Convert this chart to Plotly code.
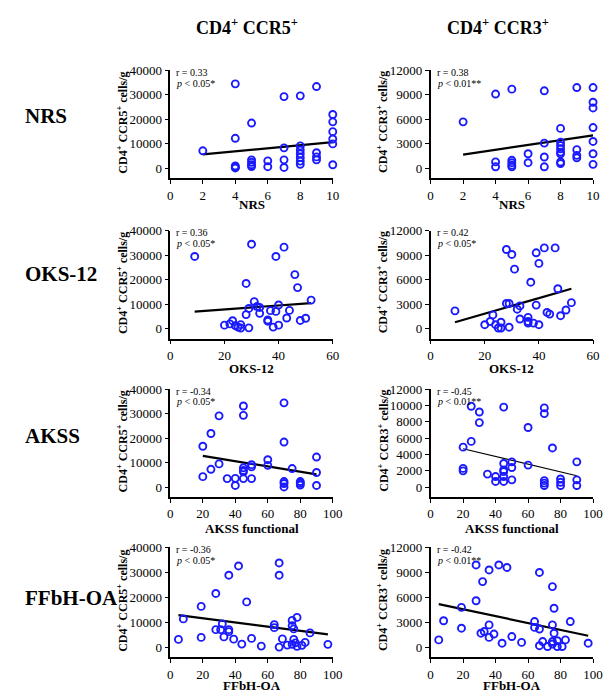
import plotly.graph_objects as go

W, H = 605, 693
FONT = "Liberation Serif"
BLUE = "#1a1aff"

# ---------------- data ----------------
nrs_ccr5_x = [2, 4, 4, 4, 4, 4, 5, 5, 5, 5, 5, 6, 6, 7, 7, 7, 7, 8, 8, 8, 8, 8, 8, 8, 9, 9, 9, 9, 10, 10, 10, 10, 10, 10]
nrs_ccr5_y = [7200, 34500, 12300, 1000, 500, 200, 18500, 3500, 2500, 1500, 800, 3100, 700, 29300, 8400, 3500, 400,
              29600, 9200, 7500, 6000, 4500, 3000, 1700, 33400, 6400, 4700, 3500, 22000, 19000, 15000, 12000, 10000, 1500]
nrs_ccr3_x = [2, 4, 4, 4, 5, 5, 5, 5, 5, 6, 6, 7, 7, 7, 7, 8, 8, 8, 8, 8, 8, 8, 8, 9, 9, 9, 9, 10, 10, 10, 10, 10, 10, 10]
nrs_ccr3_y = [5700, 9100, 800, 200, 9700, 1000, 700, 400, 200, 1800, 700, 9500, 3100, 1400, 200,
              4900, 3200, 2800, 2400, 2000, 1800, 800, 600, 9900, 2300, 1600, 1300, 9900, 8100, 7400, 5000, 3300, 1800, 500]

oks_ccr5_x = [9, 20, 22, 23, 24, 25, 26, 26, 28, 28, 29, 29, 30, 31, 32, 33, 33, 36, 36, 37, 38, 39, 39, 40, 40, 42, 43, 44, 46, 47, 48, 50, 52]
oks_ccr5_y = [29500, 1500, 2000, 3300, 1300, 700, 1700, 300, 18500, 5800, 8300, 400, 34500, 11100, 9100, 8700, 6300,
              3600, 3100, 7400, 700, 29500, 7100, 9700, 1500, 33300, 4400, 7500, 22100, 16800, 3400, 4300, 11700]
oks_ccr3_x = [9, 20, 22, 23, 24, 25, 26, 26, 28, 28, 29, 29, 30, 31, 32, 33, 33, 36, 36, 36, 37, 38, 39, 39, 40, 40, 42, 43, 44, 46, 47, 48, 50, 52]
oks_ccr3_y = [2200, 500, 900, 1700, 500, 100, 800, 100, 9700, 3100, 3100, 200, 9100, 7300, 2400, 2800, 1200,
              1400, 900, 700, 5700, 700, 9300, 2900, 500, 8000, 9900, 2000, 1800, 9900, 4900, 1600, 2300, 3200]

akss_ccr5_x = [20, 20, 25, 25, 30, 30, 35, 40, 40, 45, 45, 45, 45, 45, 45, 50, 50, 50, 60, 60, 70, 70, 70, 70, 70, 75, 80, 80, 80, 90, 90, 90]
akss_ccr5_y = [16700, 4300, 21900, 7300, 29100, 9500, 3500, 3600, 700, 33100, 29300, 7900, 6800, 6300, 3500,
               9200, 8300, 3500, 11200, 8900, 34400, 18400, 2300, 1500, 100, 7600, 2300, 1600, 900, 12300, 6000, 700]
akss_ccr3_x = [20, 20, 20, 25, 25, 30, 30, 35, 40, 40, 45, 45, 45, 45, 45, 45, 50, 50, 50, 60, 60, 70, 70, 70, 70, 70, 75, 80, 80, 80, 90, 90, 90]
akss_ccr3_y = [4900, 2300, 2000, 9900, 5600, 9200, 7900, 1600, 1300, 700, 9800, 2900, 2100, 1900, 1300, 700,
               3100, 2400, 900, 7300, 2700, 9700, 9000, 800, 500, 200, 4800, 1000, 600, 200, 3100, 900, 200]

ffbh_ccr5_x = [5, 8, 19, 19, 28, 28, 31, 32, 33, 36, 36, 36, 39, 42, 44, 47, 50, 56, 64, 64, 67, 67, 67, 69, 72,
               75, 75, 75, 76, 76, 77, 78, 78, 81, 83, 86, 97]
ffbh_ccr5_y = [3200, 11400, 16400, 4000, 21600, 7100, 7100, 9400, 4200, 28900, 7100, 6300, 3300, 32600, 1300, 18200,
               3600, 500, 9100, 7900, 33800, 28900, 100, 3400, 900, 10800, 8700, 1200, 7400, 3200, 1800, 12000, 400,
               800, 2000, 5800, 1200]
ffbh_ccr3_x = [5, 8, 19, 19, 28, 28, 31, 32, 33, 36, 36, 36, 39, 42, 44, 47, 50, 56, 64, 64, 67, 67, 67, 69, 72,
               75, 75, 75, 75, 76, 76, 78, 78, 81, 83, 86, 97]
ffbh_ccr3_y = [900, 3200, 4800, 2300, 9900, 5600, 1700, 7900, 1900, 9300, 2700, 1200, 1600, 9900, 500, 9600,
               1300, 600, 3100, 2400, 9000, 2200, 200, 700, 100, 7300, 2700, 700, 400, 4700, 1700, 800, 100,
               100, 900, 3100, 500]

# regression line end points
fit_x = {"nrs": [2, 10], "oks": [9, 52], "akss": [20, 90], "ffbh": [5, 97]}
fit_ccr5_y = {"nrs": [5700, 10700], "oks": [7000, 10500], "akss": [12800, 5200], "ffbh": [12900, 5200]}
fit_ccr3_y = {"nrs": [1700, 4050], "oks": [800, 4900], "akss": [4700, 1400], "ffbh": [5200, 1400]}

r_ccr5 = ["0.33", "0.36", "-0.34", "-0.36"]
p_ccr5 = ["0.05*", "0.05*", "0.05*", "0.05*"]
r_ccr3 = ["0.38", "0.42", "-0.45", "-0.42"]
p_ccr3 = ["0.01**", "0.05*", "0.01**", "0.01**"]

row_labels = ["NRS", "OKS-12", "AKSS", "FFbH-OA"]
x_titles = ["NRS", "OKS-12", "AKSS functional", "FFbH-OA"]
x_ticks = [[0, 2, 4, 6, 8, 10], [0, 20, 40, 60], [0, 20, 40, 60, 80, 100], [0, 20, 40, 60, 80, 100]]
x_ranges = [[0, 10], [0, 60], [0, 100], [0, 100]]
ccr5_ticks = [0, 10000, 20000, 30000, 40000]
ccr3_ticks = [[0, 3000, 6000, 9000, 12000], [0, 3000, 6000, 9000, 12000],
              [0, 2000, 4000, 6000, 8000, 10000, 12000], [0, 3000, 6000, 9000, 12000]]

keys = ["nrs", "oks", "akss", "ffbh"]
ccr5_data = [(nrs_ccr5_x, nrs_ccr5_y), (oks_ccr5_x, oks_ccr5_y), (akss_ccr5_x, akss_ccr5_y), (ffbh_ccr5_x, ffbh_ccr5_y)]
ccr3_data = [(nrs_ccr3_x, nrs_ccr3_y), (oks_ccr3_x, oks_ccr3_y), (akss_ccr3_x, akss_ccr3_y), (ffbh_ccr3_x, ffbh_ccr3_y)]

# ---------------- layout geometry (pixels) ----------------
col_px = [(171, 337), (437, 603)]
row_px = [(64, 173), (226, 335), (386, 495), (546, 657)]
xtitle_px = [200, 365, 527, 685]
row_label_px = [110, 270, 433, 597]

fig = go.Figure()
layout = dict(width=W, height=H, margin=dict(l=0, r=0, t=0, b=0),
              paper_bgcolor="white", plot_bgcolor="white", showlegend=False,
              font=dict(family=FONT, color="black", size=12))
annotations = []

def px2x(p):
    return p / W

def px2y(p):
    return 1 - p / H

idx = 0
for r in range(4):
    for c in range(2):
        idx += 1
        xa = "xaxis" if idx == 1 else f"xaxis{idx}"
        ya = "yaxis" if idx == 1 else f"yaxis{idx}"
        xr = "x" if idx == 1 else f"x{idx}"
        yr = "y" if idx == 1 else f"y{idx}"
        if c == 0:
            xs, ys = ccr5_data[r]
            fy = fit_ccr5_y[keys[r]]
            yt = ccr5_ticks
            ymax = 40000
            rtxt, ptxt = r_ccr5[r], p_ccr5[r]
            ylab = "CD4<sup>+</sup> CCR5<sup>+</sup> cells/g"
        else:
            xs, ys = ccr3_data[r]
            fy = fit_ccr3_y[keys[r]]
            yt = ccr3_ticks[r]
            ymax = 12000
            rtxt, ptxt = r_ccr3[r], p_ccr3[r]
            ylab = "CD4<sup>+</sup> CCR3<sup>+</sup> cells/g"
        lw = 1.2 if (r == 2 and c == 1) else 2.2
        fig.add_trace(go.Scatter(x=fit_x[keys[r]], y=fy, mode="lines", xaxis=xr, yaxis=yr,
                                 line=dict(color="black", width=lw), cliponaxis=False, hoverinfo="skip"))
        fig.add_trace(go.Scatter(x=xs, y=ys, mode="markers", xaxis=xr, yaxis=yr, cliponaxis=False,
                                 marker=dict(symbol="circle-open", size=7, color=BLUE,
                                             line=dict(width=1.9, color=BLUE))))
        x0, x1 = col_px[c]
        y0, y1 = row_px[r]
        axis_common = dict(showgrid=False, zeroline=False, showline=True, linecolor="black", linewidth=1.6,
                           ticks="outside", ticklen=4, tickwidth=1.4, tickcolor="black",
                           tickfont=dict(family=FONT, size=13, color="black"), fixedrange=True)
        layout[xa] = dict(axis_common, domain=[px2x(x0), px2x(x1)], range=x_ranges[r],
                          tickmode="array", tickvals=x_ticks[r], anchor=yr)
        layout[ya] = dict(axis_common, domain=[px2y(y1), px2y(y0)], range=[-ymax * 0.1, ymax],
                          tickmode="array", tickvals=yt, ticktext=[str(v) for v in yt], anchor=xr)
        # r and p annotations
        annotations.append(dict(text=f"r = {rtxt}", xref="paper", yref="paper",
                                x=px2x(x0 + 4), y=px2y(y0 + 2), xanchor="left", yanchor="middle",
                                showarrow=False, font=dict(family=FONT, size=10, color="black")))
        annotations.append(dict(text=f"<i>p</i> < {ptxt}", xref="paper", yref="paper",
                                x=px2x(x0 + 4), y=px2y(y0 + 13), xanchor="left", yanchor="middle",
                                showarrow=False, font=dict(family=FONT, size=10, color="black")))
        # y title
        ytitle_x = 122 if c == 0 else 388
        annotations.append(dict(text=f"<b>{ylab}</b>", xref="paper", yref="paper",
                                x=px2x(ytitle_x), y=px2y((y0 + y1) / 2 - 2), textangle=-90,
                                xanchor="center", yanchor="middle", showarrow=False,
                                font=dict(family=FONT, size=12, color="black")))
        # x title
        annotations.append(dict(text=f"<b>{x_titles[r]}</b>", xref="paper", yref="paper",
                                x=px2x((x0 + x1) / 2), y=px2y(xtitle_px[r]), xanchor="center", yanchor="middle",
                                showarrow=False, font=dict(family=FONT, size=13, color="black")))

for r in range(4):
    annotations.append(dict(text=f"<b>{row_labels[r]}</b>", xref="paper", yref="paper",
                            x=px2x(20), y=px2y(row_label_px[r]), xanchor="left", yanchor="middle",
                            showarrow=False, font=dict(family=FONT, size=21, color="black")))

annotations.append(dict(text="<b>CD4<sup>+</sup> CCR5<sup>+</sup></b>", xref="paper", yref="paper",
                        x=px2x(249), y=px2y(20), xanchor="center", yanchor="middle", showarrow=False,
                        font=dict(family=FONT, size=18, color="black")))
annotations.append(dict(text="<b>CD4<sup>+</sup> CCR3<sup>+</sup></b>", xref="paper", yref="paper",
                        x=px2x(506), y=px2y(20), xanchor="center", yanchor="middle", showarrow=False,
                        font=dict(family=FONT, size=18, color="black")))

layout["annotations"] = annotations
fig.update_layout(**layout)
fig.write_html("out.html", config={"displayModeBar": False},
               post_script="document.body.style.margin='0';document.body.style.padding='0';"
                           "document.documentElement.style.overflow='hidden';")
